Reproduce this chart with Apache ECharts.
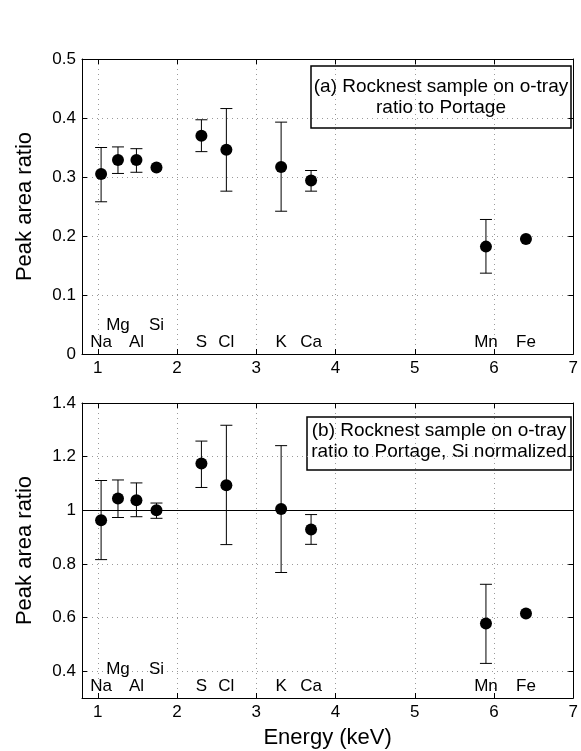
<!DOCTYPE html>
<html>
<head>
<meta charset="utf-8">
<script src="https://cdn.jsdelivr.net/npm/echarts@6/dist/echarts.min.js"></script>
<style>
  html, body { margin: 0; padding: 0; background: #fff; }
  #chart { width: 581px; height: 751px; }
</style>
</head>
<body>
<div id="chart"></div>
<script>
// X-ray line energies (keV) and element names
const elements = ['Na', 'Mg', 'Al', 'Si', 'S', 'Cl', 'K', 'Ca', 'Mn', 'Fe'];
const energies = [1.041, 1.254, 1.487, 1.740, 2.307, 2.622, 3.313, 3.691, 5.898, 6.403];
// which row each element label sits in (1 = raised row)
const labelRow = [0, 1, 0, 1, 0, 0, 0, 0, 0, 0];

// (a) peak area ratio, Rocknest on o-tray vs Portage
const ratioA     = [0.305, 0.329, 0.329, 0.316, 0.370, 0.346, 0.317, 0.294, 0.182, 0.195];
const ratioAHigh = [0.350, 0.351, 0.348, null, 0.397, 0.416, 0.393, 0.311, 0.228, null];
const ratioALow  = [0.258, 0.306, 0.308, null, 0.343, 0.276, 0.242, 0.276, 0.137, null];

// (b) same ratio normalized to Si
const ratioB     = [0.963, 1.044, 1.037, 1.000, 1.174, 1.093, 1.005, 0.928, 0.578, 0.615];
const ratioBHigh = [1.111, 1.113, 1.102, 1.027, 1.258, 1.317, 1.241, 0.984, 0.724, null];
const ratioBLow  = [0.816, 0.973, 0.976, 0.970, 1.085, 0.872, 0.768, 0.873, 0.429, null];

// tick values
const xTicks = [1, 2, 3, 4, 5, 6, 7];
const yTicksA = [0, 0.1, 0.2, 0.3, 0.4, 0.5];
const yTicksB = [0.4, 0.6, 0.8, 1.0, 1.2, 1.4];

const FONT = 'Liberation Sans, Arial, Helvetica, sans-serif';

function errorData(high, low) {
  const out = [];
  energies.forEach((e, i) => {
    if (high[i] != null && low[i] != null) out.push([e, low[i], high[i]]);
  });
  return out;
}

function errorBarSeries(gridIdx, high, low) {
  return {
    type: 'custom',
    xAxisIndex: gridIdx * 2,
    yAxisIndex: gridIdx * 2,
    z: 3,
    silent: true,
    data: errorData(high, low),
    encode: { x: 0, y: [1, 2] },
    renderItem: function (params, api) {
      const x = api.value(0);
      const pLow = api.coord([x, api.value(1)]);
      const pHigh = api.coord([x, api.value(2)]);
      const hw = 6;
      const style = { stroke: '#000', lineWidth: 1, fill: null };
      return {
        type: 'group',
        children: [
          { type: 'line', shape: { x1: pLow[0], y1: pLow[1], x2: pHigh[0], y2: pHigh[1] }, style },
          { type: 'line', shape: { x1: pLow[0] - hw, y1: pLow[1], x2: pLow[0] + hw, y2: pLow[1] }, style },
          { type: 'line', shape: { x1: pHigh[0] - hw, y1: pHigh[1], x2: pHigh[0] + hw, y2: pHigh[1] }, style }
        ]
      };
    }
  };
}

function pointSeries(gridIdx, values, extra) {
  return Object.assign({
    type: 'scatter',
    xAxisIndex: gridIdx * 2,
    yAxisIndex: gridIdx * 2,
    z: 4,
    silent: true,
    symbol: 'circle',
    symbolSize: 12,
    itemStyle: { color: '#000', opacity: 1 },
    data: energies.map((e, i) => [e, values[i]])
  }, extra || {});
}

function labelSeries(gridIdx, rowY) {
  return {
    type: 'scatter',
    xAxisIndex: gridIdx * 2,
    yAxisIndex: gridIdx * 2,
    z: 5,
    silent: true,
    symbolSize: 0,
    itemStyle: { opacity: 1 },
    data: elements.map((name, i) => ({ name, value: [energies[i], rowY[labelRow[i]]] })),
    label: {
      show: true,
      position: 'inside',
      formatter: '{b}',
      color: '#000',
      opacity: 1,
      fontFamily: FONT,
      fontSize: 17
    }
  };
}

const gridLine = { show: true, lineStyle: { color: '#9a9a9a', type: [1, 4], width: 1 } };

function mainX(gridIdx, withName) {
  return {
    type: 'value', gridIndex: gridIdx, position: 'bottom',
    min: 0.8, max: 7, interval: 1,
    axisLabel: { customValues: xTicks, color: '#000', fontFamily: FONT, fontSize: 17, margin: 6 },
    axisTick: { customValues: xTicks, inside: true, length: 5, lineStyle: { color: '#000' } },
    axisLine: { show: true, onZero: false, lineStyle: { color: '#000', width: 1 } },
    splitLine: gridLine,
    name: withName ? 'Energy (keV)' : '',
    nameLocation: 'middle',
    nameGap: 29,
    nameTextStyle: { color: '#000', fontFamily: FONT, fontSize: 22 }
  };
}
function mirrorX(gridIdx) {
  return {
    type: 'value', gridIndex: gridIdx, position: 'top',
    min: 0.8, max: 7,
    axisLabel: { show: false, customValues: xTicks },
    axisTick: { customValues: xTicks, inside: true, length: 5, lineStyle: { color: '#000' } },
    axisLine: { show: true, onZero: false, lineStyle: { color: '#000', width: 1 } },
    splitLine: { show: false }
  };
}
function mainY(gridIdx, min, max, ticks) {
  return {
    type: 'value', gridIndex: gridIdx, position: 'left',
    min, max,
    axisLabel: { customValues: ticks, color: '#000', fontFamily: FONT, fontSize: 17, margin: 6 },
    axisTick: { customValues: ticks, inside: true, length: 5, lineStyle: { color: '#000' } },
    axisLine: { show: true, onZero: false, lineStyle: { color: '#000', width: 1 } },
    splitLine: gridLine,
    name: 'Peak area ratio',
    nameLocation: 'middle',
    nameRotate: 90,
    nameGap: 46,
    nameTextStyle: { color: '#000', fontFamily: FONT, fontSize: 22 }
  };
}
function mirrorY(gridIdx, min, max, ticks) {
  return {
    type: 'value', gridIndex: gridIdx, position: 'right',
    min, max,
    axisLabel: { show: false, customValues: ticks },
    axisTick: { customValues: ticks, inside: true, length: 5, lineStyle: { color: '#000' } },
    axisLine: { show: true, onZero: false, lineStyle: { color: '#000', width: 1 } },
    splitLine: { show: false }
  };
}

function legendBox(x, y, w, h, lines, lineYs) {
  const children = [{
    type: 'rect',
    shape: { x: 0, y: 0, width: w, height: h },
    style: { fill: '#fff', stroke: '#000', lineWidth: 1.5 }
  }];
  lines.forEach((t, i) => {
    children.push({
      type: 'text',
      x: w / 2, y: lineYs[i],
      style: { text: t, fill: '#000', font: '19px ' + FONT, textAlign: 'center', textVerticalAlign: 'middle' }
    });
  });
  return { type: 'group', x, y, z: 100, children };
}

const chart = echarts.init(document.getElementById('chart'), null, { renderer: 'canvas' });
chart.setOption({
  backgroundColor: '#fff',
  animation: false,
  grid: [
    { left: 82, top: 59, width: 494, height: 295, containLabel: false },
    { left: 82, top: 403, width: 492, height: 295, containLabel: false }
  ],
  xAxis: [mainX(0, false), mirrorX(0), mainX(1, true), mirrorX(1)],
  yAxis: [
    mainY(0, 0, 0.5, yTicksA), mirrorY(0, 0, 0.5, yTicksA),
    mainY(1, 0.3, 1.4, yTicksB), mirrorY(1, 0.3, 1.4, yTicksB)
  ],
  series: [
    errorBarSeries(0, ratioAHigh, ratioALow),
    pointSeries(0, ratioA),
    labelSeries(0, [0.020, 0.049]),
    errorBarSeries(1, ratioBHigh, ratioBLow),
    pointSeries(1, ratioB, {
      markLine: {
        silent: true,
        symbol: 'none',
        label: { show: false },
        lineStyle: { color: '#000', type: 'solid', width: 1 },
        data: [{ yAxis: 1 }]
      }
    }),
    labelSeries(1, [0.344, 0.408])
  ],
  graphic: [
    legendBox(311, 66, 260, 62, ['(a) Rocknest sample on o-tray', 'ratio to Portage'], [21, 42]),
    legendBox(307, 417, 264, 53, ['(b) Rocknest sample on o-tray', 'ratio to Portage, Si normalized'], [14, 35])
  ]
});
</script>
</body>
</html>
